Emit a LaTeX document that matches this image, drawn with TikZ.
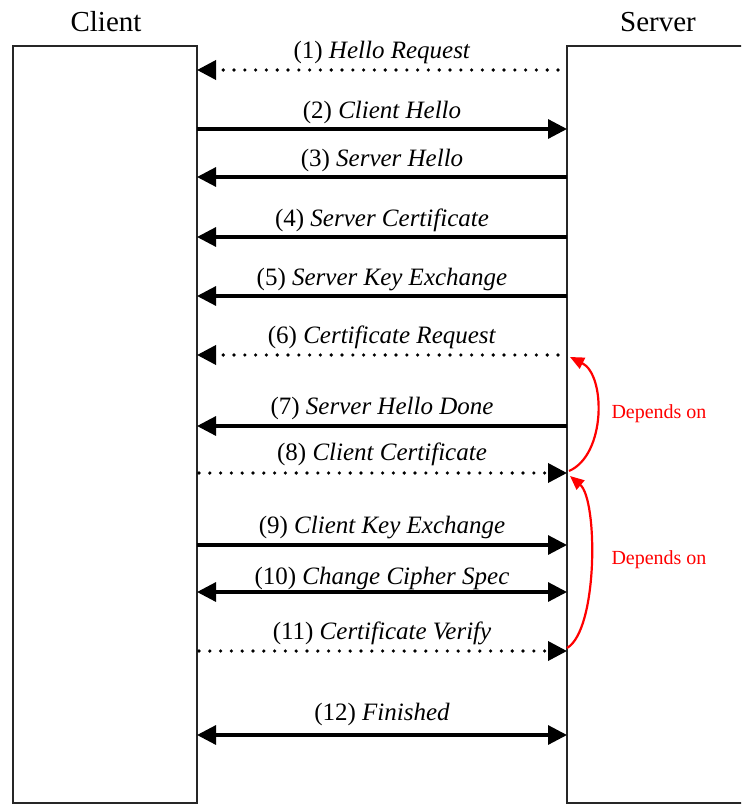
\documentclass[tikz,border=0pt]{standalone}
\usepackage{fontspec}
\setmainfont{Liberation Serif}
\usetikzlibrary{arrows.meta}
\begin{document}
\begin{tikzpicture}[x=1pt,y=-1pt,
  box/.style={line width=1.4pt, draw=black!85},
  title/.style={font=\fontsize{29}{32}\selectfont, anchor=center},
  lbl/.style={font=\fontsize{25}{27}\selectfont, above, inner sep=4pt},
  tipT/.style={-{Triangle[length=19pt,width=19pt]}},
  tipTT/.style={{Triangle[length=19pt,width=19pt]}-{Triangle[length=19pt,width=19pt]}},
  solidmsg/.style={line width=3.2pt},
  dotmsg/.style={line width=3.6pt, dash pattern=on 0pt off 10.8pt, line cap=round},
  dep/.style={red, line width=2.2pt, -{Triangle[length=14pt,width=12pt]}},
  deplbl/.style={red, font=\fontsize{20}{22}\selectfont, anchor=center}]
\useasboundingbox (0,0) rectangle (741,805);
\clip (0,0) rectangle (741,805);
% boxes
\draw[box] (13,803) -- (13,46) -- (197,46) -- (197,803) -- cycle;
\draw[box] (750,46) -- (567,46) -- (567,803) -- (750,803);
\node[title] (client) at (106,22) {Client};
\node[title] (server) at (658,22) {Server};
% coordinates
\foreach \i/\y in {1/70,2/129,3/177,4/237,5/296,6/355,7/426,8/473,9/545,10/592,11/651,12/735}{
  \coordinate (c\i) at (197,\y);
  \coordinate (s\i) at (567,\y);
}
% messages
\draw[dotmsg,tipT,shorten <=9pt] (s1) -- (c1) node[lbl,midway] {(1) \textit{Hello Request}};
\draw[solidmsg,tipT] (c2) -- (s2) node[lbl,midway] {(2) \textit{Client Hello}};
\draw[solidmsg,tipT] (s3) -- (c3) node[lbl,midway] {(3) \textit{Server Hello}};
\draw[solidmsg,tipT] (s4) -- (c4) node[lbl,midway] {(4) \textit{Server Certificate}};
\draw[solidmsg,tipT] (s5) -- (c5) node[lbl,midway] {(5) \textit{Server Key Exchange}};
\draw[dotmsg,tipT,shorten <=9pt] (s6) -- (c6) node[lbl,midway] {(6) \textit{Certificate Request}};
\draw[solidmsg,tipT] (s7) -- (c7) node[lbl,midway,inner sep=5pt] {(7) \textit{Server Hello Done}};
\draw[dotmsg,tipT,shorten <=2pt] (c8) -- (s8) node[lbl,midway,inner sep=5pt] {(8) \textit{Client Certificate}};
\draw[solidmsg,tipT] (c9) -- (s9) node[lbl,midway,inner sep=5pt] {(9) \textit{Client Key Exchange}};
\draw[solidmsg,tipTT] (c10) -- (s10) node[lbl,midway,inner sep=1pt] {(10) \textit{Change Cipher Spec}};
\draw[dotmsg,tipT,shorten <=2pt] (c11) -- (s11) node[lbl,midway,inner sep=4pt] {(11) \textit{Certificate Verify}};
\draw[solidmsg,tipTT] (c12) -- (s12) node[lbl,midway,inner sep=8pt] {(12) \textit{Finished}};
% dependencies
\coordinate (d1a) at (569,471);
\coordinate (d1b) at (570,357);
\coordinate (d2a) at (567,648);
\coordinate (d2b) at (570,476);
\draw[dep] (d1a) .. controls (606,455) and (606,375) .. (d1b);
\draw[dep] (d2a) .. controls (598,630) and (598,500) .. (d2b);
\node[deplbl] (dep1) at (659,414) {Depends on};
\node[deplbl] (dep2) at (659,560) {Depends on};
\end{tikzpicture}
\end{document}
